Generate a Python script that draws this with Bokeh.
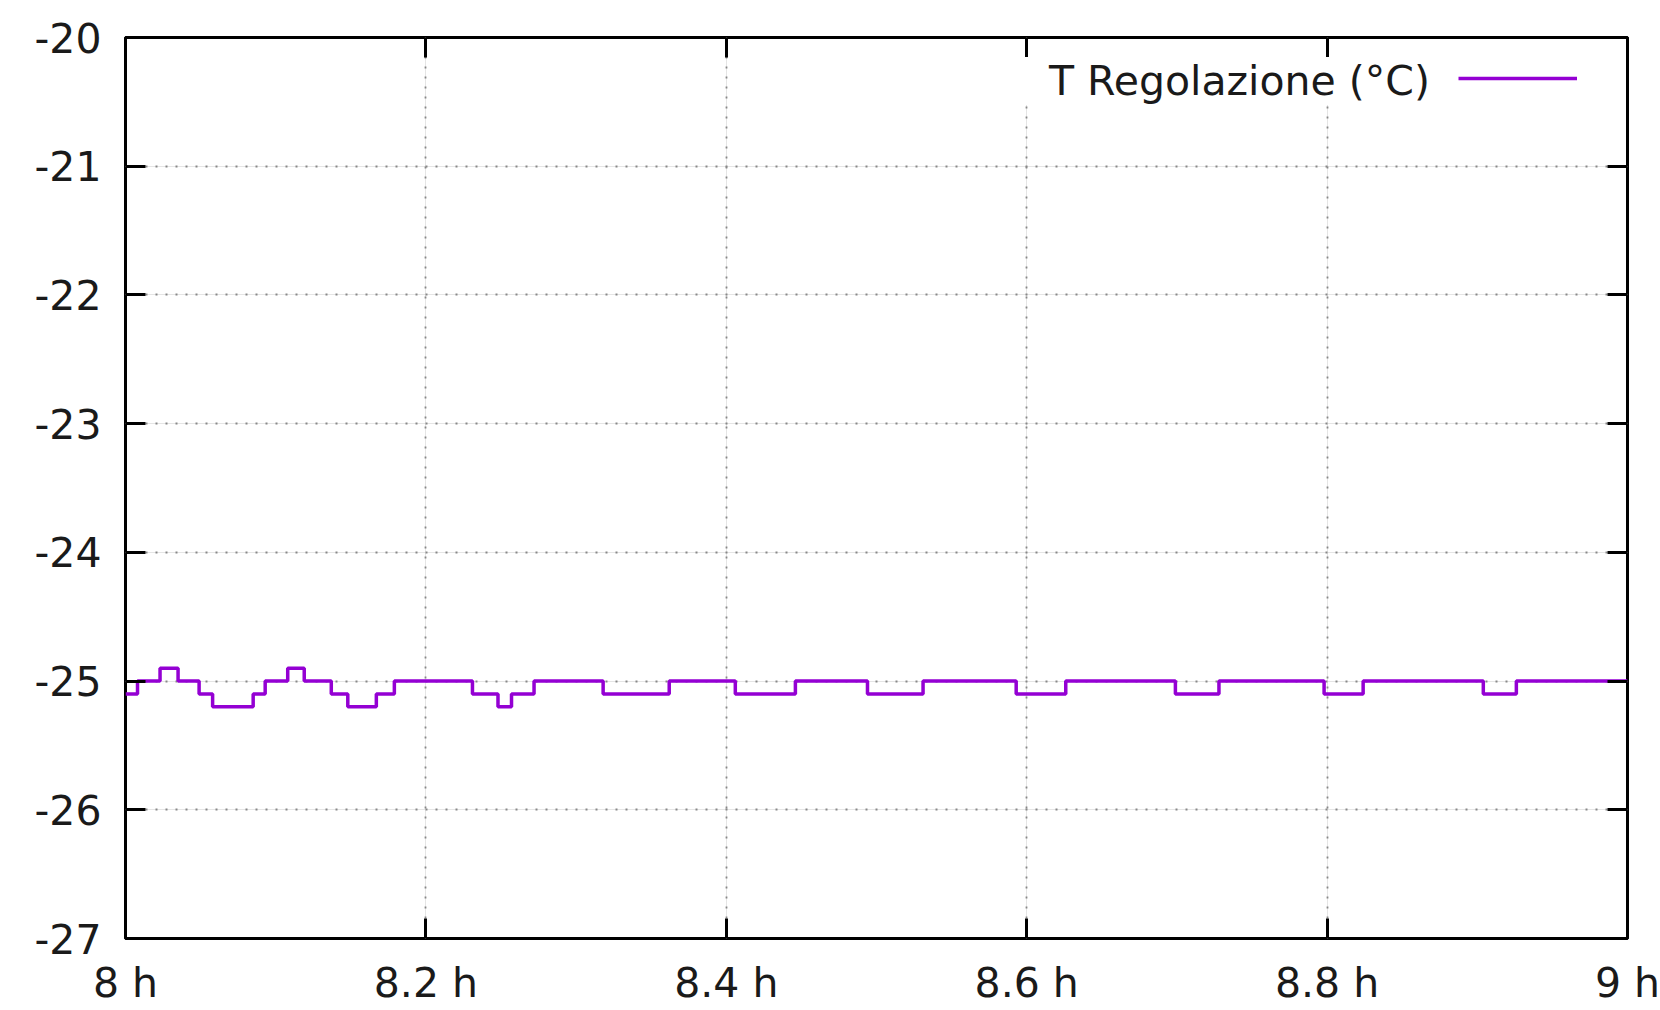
from bokeh.plotting import figure
from bokeh.models import (ColumnDataSource, FixedTicker, LinearAxis, Legend, LegendItem,
                          Range1d, CustomJSTickFormatter, Grid)
from bokeh.embed import file_html
from bokeh.resources import INLINE

# ---- data ----
time_h = [8.0, 8.008, 8.023, 8.035, 8.049, 8.058, 8.085, 8.093, 8.108, 8.119,
          8.137, 8.148, 8.167, 8.179, 8.231, 8.248, 8.257, 8.272, 8.318, 8.362,
          8.406, 8.446, 8.494, 8.531, 8.593, 8.626, 8.699, 8.728, 8.798, 8.824,
          8.904, 8.926, 9.0]
t_regolazione = [-25.1, -25.0, -24.9, -25.0, -25.1, -25.2, -25.1, -25.0, -24.9, -25.0,
                 -25.1, -25.2, -25.1, -25.0, -25.1, -25.2, -25.1, -25.0, -25.1, -25.0,
                 -25.1, -25.0, -25.1, -25.0, -25.1, -25.0, -25.1, -25.0, -25.1, -25.0,
                 -25.1, -25.0, -25.0]
series_label = "T Regolazione (°C)"
x_ticks = [8.0, 8.2, 8.4, 8.6, 8.8, 9.0]
x_tick_labels = ["8 h", "8.2 h", "8.4 h", "8.6 h", "8.8 h", "9 h"]
y_ticks = [-27, -26, -25, -24, -23, -22, -21, -20]
y_tick_labels = ["-27", "-26", "-25", "-24", "-23", "-22", "-21", "-20"]

FONT = "DejaVu Sans"
FSIZE = "41px"

p = figure(width=1660, height=1010, output_backend="svg", toolbar_location=None,
           x_range=Range1d(8.0, 9.0), y_range=Range1d(-27, -20),
           min_border_left=125, min_border_right=33, min_border_top=37, min_border_bottom=72,
           x_axis_location=None, y_axis_location=None)
p.background_fill_color = "white"
p.border_fill_color = "white"
p.outline_line_color = "black"
p.outline_line_width = 3

src = ColumnDataSource(dict(x=time_h, y=t_regolazione))
r = p.step("x", "y", source=src, mode="after", line_color="#9400D3", line_width=3.5)

xt = FixedTicker(ticks=x_ticks)
yt = FixedTicker(ticks=y_ticks)

def style(ax, show_labels, overrides=None, standoff=24):
    ax.axis_line_color = None
    ax.major_tick_in = 20
    ax.major_tick_out = 0
    ax.major_tick_line_color = "black"
    ax.major_tick_line_width = 3
    ax.minor_tick_line_color = None
    if show_labels:
        ax.major_label_text_font = FONT
        ax.major_label_text_font_size = FSIZE
        ax.major_label_text_color = "#1a1a1a"
        ax.major_label_standoff = standoff
        if overrides:
            ax.major_label_overrides = overrides
    else:
        ax.formatter = CustomJSTickFormatter(code="return ''")
        ax.major_label_text_font_size = "1px"
        ax.major_label_standoff = 0

bottom = LinearAxis(ticker=xt)
style(bottom, True, {float(v): s for v, s in zip(x_ticks, x_tick_labels)}, standoff=20)
left = LinearAxis(ticker=yt)
style(left, True, {int(v): s for v, s in zip(y_ticks, y_tick_labels)})
top = LinearAxis(ticker=xt)
style(top, False)
right = LinearAxis(ticker=yt)
style(right, False)
p.add_layout(bottom, "below")
p.add_layout(left, "left")
p.add_layout(top, "above")
p.add_layout(right, "right")

gx = Grid(dimension=0, ticker=xt, grid_line_color="#888888", grid_line_width=1.8,
          grid_line_dash="2 8")
gy = Grid(dimension=1, ticker=yt, grid_line_color="#888888", grid_line_width=1.8,
          grid_line_dash="2 8")
p.add_layout(gx, "center")
p.add_layout(gy, "center")

# legend text (white box covering the grid, as gnuplot's key)
legA = Legend(items=[LegendItem(label=series_label, renderers=[r])],
              location=(887, 833), padding=0, margin=0, spacing=0,
              glyph_width=0, glyph_height=48, label_height=48, label_width=560,
              label_standoff=37, label_text_font=FONT, label_text_font_size=FSIZE,
              label_text_color="#1a1a1a", background_fill_color="white",
              background_fill_alpha=1.0, border_line_color=None)
# legend sample line (drawn to the right of the text)
legB = Legend(items=[LegendItem(label="", renderers=[r])],
              location=(1333, 850), padding=0, margin=0, spacing=0,
              glyph_width=119, glyph_height=20, label_height=20, label_width=0,
              label_standoff=0, label_text_font_size="1px",
              background_fill_alpha=0.0, border_line_color=None)
p.add_layout(legA, "center")
p.add_layout(legB, "center")

open("out.html", "w").write(file_html(p, INLINE))
